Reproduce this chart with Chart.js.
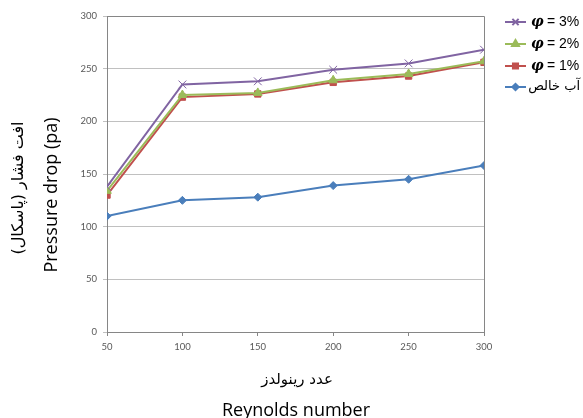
<!DOCTYPE html>
<html lang="fa">
<head>
    <meta charset="UTF-8">
    <title>Pressure drop vs Reynolds number</title>
    <script src="https://cdn.jsdelivr.net/npm/chart.js"></script>
    <style>
        html, body { margin: 0; padding: 0; background: #fff; }
        #wrap { position: relative; width: 583px; height: 418px; overflow: hidden; }
    </style>
</head>
<body>
    <div id="wrap">
        <canvas id="dropChart" width="583" height="418"></canvas>
    </div>

    <script>
        // Data
        const reynolds = [50, 100, 150, 200, 250, 300];
        const phi3 = [138, 235, 238, 249, 255, 268];
        const phi2 = [134, 225, 227, 239, 245, 257];
        const phi1 = [130, 223, 226, 237, 243, 256];
        const water = [110, 125, 128, 139, 145, 158];
        const yTicks = [0, 50, 100, 150, 200, 250, 300];
        const seriesNames = ['φ = 3%', 'φ = 2%', 'φ = 1%', 'آب خالص'];

        const tickFont = { family: 'Lato, "Liberation Sans", sans-serif', size: 9.5 };

        function toPoints(values) {
            return reynolds.map((re, i) => ({ x: re, y: values[i] }));
        }

        function series(label, values, color, style, radius, bw) {
            return {
                label: label,
                data: toPoints(values),
                borderColor: color,
                backgroundColor: color,
                borderWidth: 2,
                pointStyle: style,
                pointRadius: radius,
                pointBorderWidth: bw,
                pointBackgroundColor: color,
                pointBorderColor: color,
                tension: 0
            };
        }

        const datasets = [
            series(seriesNames[0], phi3, '#8064a2', 'crossRot', 5.5, 1),
            series(seriesNames[1], phi2, '#9bbb59', 'triangle', 5, 1),
            series(seriesNames[2], phi1, '#c0504d', 'rect', 4.5, 1),
            series(seriesNames[3], water, '#4a7ebb', 'rectRot', 4, 1)
        ];

        // Box round the plot, axis titles and the legend
        const decorations = {
            id: 'decorations',
            afterDraw(chart) {
                const ctx = chart.ctx;
                const a = chart.chartArea;
                ctx.save();
                ctx.strokeStyle = '#868686';
                ctx.lineWidth = 1;
                ctx.beginPath();
                ctx.moveTo(a.left, a.top + 0.5);
                ctx.lineTo(a.right + 0.5, a.top + 0.5);
                ctx.lineTo(a.right + 0.5, a.bottom);
                ctx.stroke();

                // y title
                ctx.fillStyle = '#000';
                ctx.textAlign = 'center';
                ctx.textBaseline = 'middle';
                ctx.save();
                ctx.translate(19, 188);
                ctx.rotate(-Math.PI / 2);
                ctx.direction = 'rtl';
                ctx.font = '16px "DejaVu Sans", sans-serif';
                ctx.fillText('افت فشار (پاسکال)', 0, 0);
                ctx.restore();
                ctx.save();
                ctx.translate(52, 195);
                ctx.rotate(-Math.PI / 2);
                ctx.font = '18px "Open Sans", sans-serif';
                ctx.fillText('Pressure drop (pa)', 0, 0);
                ctx.restore();

                // x title
                ctx.save();
                ctx.direction = 'rtl';
                ctx.font = '15px "DejaVu Sans", sans-serif';
                ctx.fillText('عدد رینولدز', 297, 380);
                ctx.restore();
                ctx.font = '18px "Open Sans", sans-serif';
                ctx.fillText('Reynolds number', 296, 411);

                // legend
                const rows = [22, 44, 66, 87];
                chart.data.datasets.forEach((ds, i) => {
                    const y = rows[i];
                    ctx.strokeStyle = ds.borderColor;
                    ctx.fillStyle = ds.borderColor;
                    ctx.lineWidth = 2;
                    ctx.beginPath();
                    ctx.moveTo(505, y);
                    ctx.lineTo(526, y);
                    ctx.stroke();
                    Chart.helpers.drawPoint(ctx, {
                        pointStyle: ds.pointStyle,
                        radius: ds.pointRadius * 0.8,
                        rotation: 0,
                        borderWidth: 1
                    }, 515.5, y);
                    ctx.fillStyle = '#000';
                    ctx.textBaseline = 'middle';
                    if (i < 3) {
                        ctx.textAlign = 'left';
                        ctx.font = 'bold italic 14px "DejaVu Serif", serif';
                        ctx.fillText('φ', 531, y);
                        ctx.font = '14px "Liberation Sans", sans-serif';
                        ctx.fillText(ds.label.slice(1), 543, y);
                    } else {
                        ctx.direction = 'rtl';
                        ctx.font = '13px "DejaVu Sans", sans-serif';
                        ctx.textAlign = 'right';
                        ctx.fillText(ds.label, 580, y);
                        ctx.direction = 'ltr';
                    }
                });
                ctx.restore();
            }
        };

        window.onload = function() {
            const ctx = document.getElementById('dropChart').getContext('2d');
            new Chart(ctx, {
                type: 'line',
                data: { datasets: datasets },
                options: {
                    responsive: false,
                    animation: false,
                    layout: { padding: { top: 16, right: 99, left: 0, bottom: 0 } },
                    plugins: {
                        legend: { display: false },
                        tooltip: { enabled: false }
                    },
                    scales: {
                        x: {
                            type: 'linear',
                            min: 50,
                            max: 300,
                            afterFit(scale) { scale.height = 86; },
                            ticks: {
                                stepSize: 50,
                                color: '#595959',
                                font: tickFont,
                                padding: 5,
                                maxRotation: 0
                            },
                            grid: {
                                drawOnChartArea: false,
                                drawTicks: true,
                                tickLength: 4,
                                color: '#868686'
                            },
                            border: { color: '#868686', width: 1 }
                        },
                        y: {
                            min: 0,
                            max: 300,
                            afterFit(scale) { scale.width = 107; },
                            afterBuildTicks(scale) {
                                scale.ticks = yTicks.map(v => ({ value: v }));
                            },
                            ticks: {
                                color: '#595959',
                                font: tickFont,
                                padding: 6
                            },
                            grid: {
                                color: '#c0c0c0',
                                lineWidth: 1,
                                drawTicks: true,
                                tickLength: 4
                            },
                            border: { color: '#868686', width: 1 }
                        }
                    }
                },
                plugins: [decorations]
            });
        };
    </script>
</body>
</html>
